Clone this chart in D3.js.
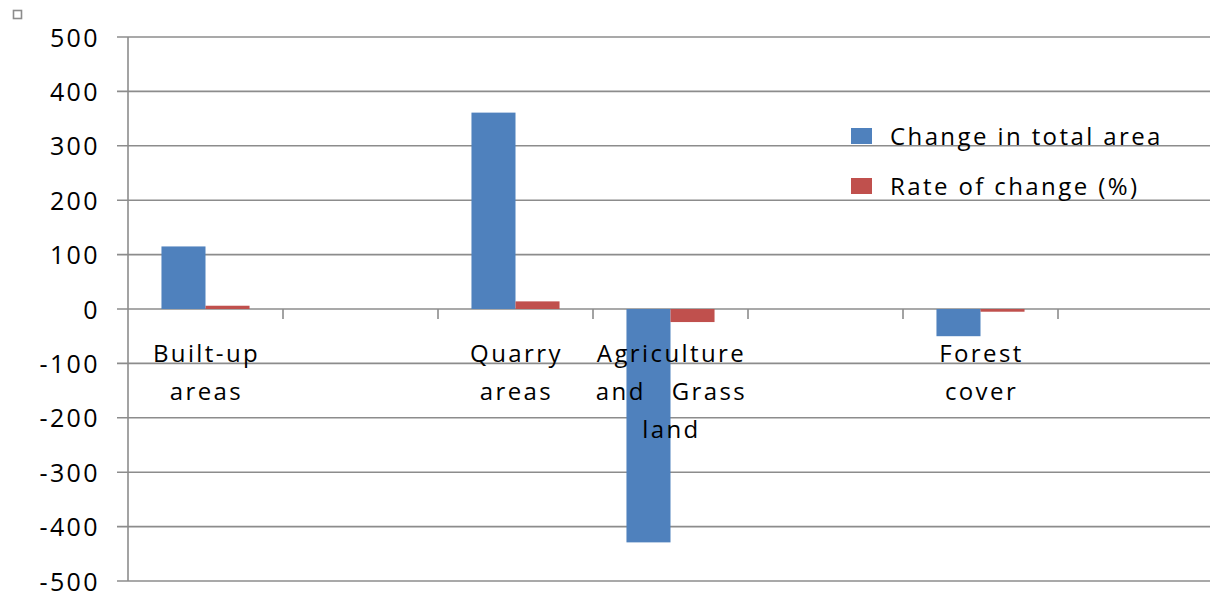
<!DOCTYPE html>
<html><head><meta charset="utf-8">
<script src="https://cdn.jsdelivr.net/npm/d3@7"></script>
<style>html,body{margin:0;padding:0;background:#fff;}svg{display:block;}</style>
</head><body>
<svg id="c" width="1212" height="598"></svg>
<script>
const categories = ["Built-up\nareas", "", "Quarry\nareas", "Agriculture\nand   Grass\nland", "", "Forest\ncover", ""];
const seriesNames = ["Change in total area", "Rate of change (%)"];
const changeInTotalArea = [115, null, 361, -429, null, -50, null];
const rateOfChange = [6, null, 14, -24, null, -5, null];
const yTicks = [500, 400, 300, 200, 100, 0, -100, -200, -300, -400, -500];
const colors = ["#4F81BD", "#C0504D"];

(function () {
const svg = d3.select("#c");
const font = "'Open Sans', 'Liberation Sans', sans-serif";
const ls = "2.4px";
const mLeft = 128, mRight = 1213, mTop = 37, mBottom = 581;
const gridColor = "#8c8c8c";

const x = d3.scaleBand().domain(d3.range(categories.length)).range([mLeft, mRight]).paddingInner(0).paddingOuter(0);
const xs = d3.scaleBand().domain([0, 1]).range([0, x.bandwidth()]).paddingInner(0).paddingOuter(0.76);
const y = d3.scaleLinear().domain([-500, 500]).range([mBottom, mTop]);

// small marker top-left
svg.append("rect").attr("x", 13.5).attr("y", 10.5).attr("width", 8).attr("height", 8)
  .attr("fill", "#fff").attr("stroke", "#8c8c8c").attr("stroke-width", 1.6);

// gridlines
svg.append("g").selectAll("line").data(yTicks).join("line")
  .attr("x1", 117).attr("x2", 1210)
  .attr("y1", d => y(d)).attr("y2", d => y(d))
  .attr("stroke", gridColor).attr("stroke-width", 1.6);

// y axis
const yAxis = d3.axisLeft(y).tickValues(yTicks).tickSize(0).tickPadding(28).tickFormat(d => String(d));
const gy = svg.append("g").attr("transform", `translate(${mLeft},0)`).call(yAxis);
gy.select(".domain").remove();
gy.selectAll("text").attr("font-family", font).attr("font-size", 25).attr("fill", "#000")
  .attr("dy", "0.36em").style("letter-spacing", ls);
svg.append("line").attr("x1", mLeft).attr("x2", mLeft).attr("y1", mTop).attr("y2", mBottom)
  .attr("stroke", gridColor).attr("stroke-width", 1.6);

// x ticks at band boundaries
const boundaries = d3.range(1, categories.length).map(i => x(i));
svg.append("g").selectAll("line").data(boundaries).join("line")
  .attr("x1", d => d).attr("x2", d => d).attr("y1", y(0)).attr("y2", y(0) + 10)
  .attr("stroke", gridColor).attr("stroke-width", 1.6);

// bars
const series = [changeInTotalArea, rateOfChange];
series.forEach((vals, si) => {
  svg.append("g").selectAll("rect").data(vals.map((v, i) => ({v, i})).filter(d => d.v !== null)).join("rect")
    .attr("x", d => x(d.i) + xs(si))
    .attr("width", xs.bandwidth())
    .attr("y", d => y(Math.max(0, d.v)))
    .attr("height", d => Math.abs(y(d.v) - y(0)))
    .attr("fill", colors[si]);
});

// category labels
const lab = svg.append("g");
categories.forEach((c, i) => {
  if (!c) return;
  const t = lab.append("text").attr("text-anchor", "middle").attr("font-family", font)
    .attr("font-size", 24).attr("fill", "#000").style("white-space", "pre").style("letter-spacing", ls);
  c.split("\n").forEach((line, k) => {
    t.append("tspan").attr("x", x(i) + x.bandwidth() / 2 + 1).attr("y", 362 + k * 38).text(line);
  });
});

// legend
const lg = svg.append("g");
seriesNames.forEach((n, i) => {
  const yy = 128 + i * 50;
  lg.append("rect").attr("x", 851).attr("y", yy).attr("width", 21).attr("height", 16).attr("fill", colors[i]);
  lg.append("text").attr("x", 890).attr("y", yy + 17).attr("font-family", font).attr("font-size", 24)
    .attr("fill", "#000").style("letter-spacing", ls).text(n);
});
})();
</script>
</body></html>
